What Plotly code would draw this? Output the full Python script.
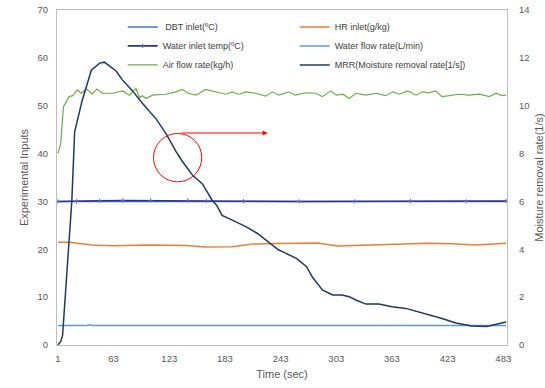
import plotly.graph_objects as go

# ---------------- data (x = sample index; labels shown as times) ----------------
tick_pos = [0, 60, 120, 180, 240, 300, 360, 420, 480]
tick_labels = ["1", "63", "123", "183", "243", "303", "363", "423", "483"]

dbt_x = [0, 60, 120, 180, 240, 300, 360, 420, 483]
dbt_y = [30.0, 30.0, 30.0, 30.0, 30.0, 29.9, 30.0, 30.0, 30.0]

hr_x = [0, 12, 23, 37, 59, 98, 138, 159, 188, 210, 234, 260, 280, 301, 336, 399, 425, 450, 483]
hr_y = [21.45, 21.45, 21.2, 20.9, 20.75, 20.9, 20.8, 20.5, 20.55, 21.1, 21.2, 21.25, 21.3, 20.7, 20.9, 21.25, 21.15, 20.9, 21.25]

win_x = [0, 20, 45, 70, 100, 140, 160, 200, 260, 320, 380, 440, 483]
win_y = [30.0, 30.0, 30.15, 30.2, 30.2, 30.2, 30.1, 30.05, 30.0, 30.0, 30.05, 30.0, 30.1]

wf_x = [0, 30, 34, 38, 100, 160, 170, 240, 285, 290, 350, 410, 483]
wf_y = [4.05, 4.05, 4.25, 4.05, 4.05, 4.05, 4.15, 4.05, 4.05, 4.2, 4.05, 4.05, 4.05]

air_x = [0, 3, 6, 12, 16, 21, 25, 31, 37, 42, 48, 59, 70, 77, 84, 88, 91, 95, 102, 116,
         127, 134, 140, 149, 159, 170, 181, 188, 195, 203, 213, 224, 231, 238, 249, 256,
         267, 278, 285, 294, 300, 307, 314, 321, 332, 343, 353, 361, 368, 377, 386, 393,
         400, 407, 414, 422, 432, 443, 454, 465, 472, 479, 483]
air_y = [40.0, 42.1, 49.8, 51.9, 52.1, 53.3, 52.6, 53.5, 52.4, 53.5, 52.6, 52.6, 53.1, 52.2,
         53.6, 51.7, 52.1, 51.5, 52.2, 52.4, 52.9, 53.4, 52.6, 52.2, 53.4, 52.9, 52.4, 52.9,
         52.4, 52.9, 52.6, 52.0, 52.9, 52.2, 52.9, 52.2, 52.7, 52.6, 51.9, 53.1, 52.2, 52.4,
         51.5, 52.6, 52.2, 52.6, 52.1, 52.9, 52.4, 53.1, 52.2, 52.9, 52.7, 53.1, 51.9, 52.1,
         52.4, 52.2, 52.4, 51.9, 52.6, 52.1, 52.2]

mrr_x = [0, 3, 5, 15, 18, 26, 36, 45, 50, 55, 63, 69, 80, 91, 106, 117, 127, 134, 145,
         156, 166, 171, 177, 188, 203, 215, 228, 238, 242, 257, 268, 274, 285, 296, 306,
         314, 321, 332, 346, 360, 375, 389, 403, 414, 429, 446, 462, 472, 483]
mrr_y = [0.0, 0.15, 0.4, 6.04, 8.9, 10.2, 11.48, 11.78, 11.82, 11.66, 11.44, 11.1, 10.64,
         10.1, 9.44, 8.8, 8.1, 7.68, 7.1, 6.72, 6.06, 5.84, 5.42, 5.22, 4.94, 4.66, 4.25,
         3.97, 3.9, 3.62, 3.27, 2.85, 2.3, 2.09, 2.09, 2.02, 1.88, 1.71, 1.71, 1.6, 1.53,
         1.39, 1.25, 1.11, 0.92, 0.79, 0.77, 0.87, 0.96]

# ---------------- figure ----------------
fig = go.Figure()
fig.add_trace(go.Scatter(x=dbt_x, y=dbt_y, mode="lines", name=" DBT inlet(ºC)",
                         line=dict(color="#4472C4", width=1.5)))
fig.add_trace(go.Scatter(x=hr_x, y=hr_y, mode="lines", name="HR inlet(g/kg)",
                         line=dict(color="#ED7D31", width=1.5)))
fig.add_trace(go.Scatter(x=win_x, y=win_y, mode="lines+markers", name="Water inlet temp(ºC)",
                         line=dict(color="#2E3192", width=1.6),
                         marker=dict(symbol="cross-thin", size=3, color="#2E3192",
                                     line=dict(color="#5A5FC0", width=1))))
fig.add_trace(go.Scatter(x=wf_x, y=wf_y, mode="lines", name="Water flow rate(L/min)",
                         line=dict(color="#5B9BD5", width=1.5)))
fig.add_trace(go.Scatter(x=air_x, y=air_y, mode="lines", name="Air flow rate(kg/h)",
                         line=dict(color="#70AD47", width=1.2)))
fig.add_trace(go.Scatter(x=mrr_x, y=mrr_y, mode="lines", name="MRR(Moisture removal rate[1/s])",
                         line=dict(color="#1F3864", width=1.5), yaxis="y2"))

grey = "#595959"
fig.update_layout(
    width=545, height=388,
    margin=dict(l=57, r=38, t=10, b=43, autoexpand=False),
    paper_bgcolor="white", plot_bgcolor="white",
    font=dict(family="Liberation Sans, Arial, sans-serif", size=10, color=grey),
    showlegend=True,
    legend=dict(orientation="h", x=0.146, y=0.968, xref="paper", yref="container",
                xanchor="left", yanchor="top",
                entrywidth=127, entrywidthmode="pixels", bgcolor="rgba(0,0,0,0)",
                font=dict(size=9, color="#404040"), itemwidth=30, tracegroupgap=0),
    xaxis=dict(range=[-1, 484], tickvals=tick_pos, ticktext=tick_labels,
               showgrid=False, zeroline=False, showline=True, linecolor="#BFBFBF",
               mirror=True, ticks="", ticklabelstandoff=5, tickfont=dict(size=9.5, color=grey),
               title=dict(text="Time (sec)", font=dict(size=11, color=grey), standoff=6)),
    yaxis=dict(range=[0, 70], dtick=10, showgrid=False, zeroline=False, showline=True,
               linecolor="#BFBFBF", ticks="", ticklabelstandoff=6, tickfont=dict(size=9.5, color=grey),
               title=dict(text="Experimental Inputs", font=dict(size=11, color=grey), standoff=6)),
    yaxis2=dict(range=[0, 14], dtick=2, overlaying="y", side="right", showgrid=False,
                zeroline=False, showline=True, linecolor="#BFBFBF", ticks="", ticklabelstandoff=9,
                tickfont=dict(size=9.5, color=grey),
                title=dict(text="Moisture removal rate(1/s)", font=dict(size=11, color=grey), standoff=10)),
    shapes=[
        dict(type="circle", xref="x", yref="y", x0=103, x1=155, y0=34.1, y1=44.2,
             line=dict(color="#FF0000", width=1)),
    ],
    annotations=[
        dict(x=226, y=44.3, ax=132, ay=44.3, xref="x", yref="y", axref="x", ayref="y",
             showarrow=True, arrowhead=2, arrowsize=1, arrowwidth=1, arrowcolor="#FF0000", text=""),
    ],
)

fig.write_html("out.html", config={"displayModeBar": False},
               post_script="document.body.style.margin='0';")
